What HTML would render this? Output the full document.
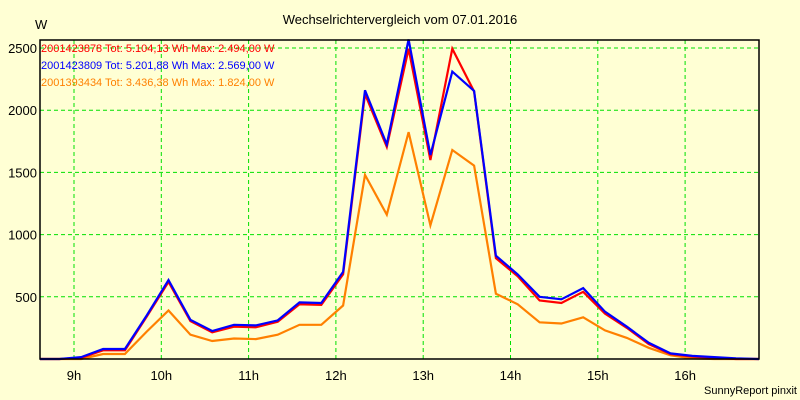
<!DOCTYPE html>
<html><head><meta charset="utf-8"><style>
html,body{margin:0;padding:0;background:#ffffd4;}
svg{display:block;font-family:"Liberation Sans",sans-serif;}
</style></head><body>
<svg id="chart" width="800" height="400" viewBox="0 0 800 400">
<rect x="0" y="0" width="800" height="400" fill="#ffffd4"/>
<text x="400" y="24" font-size="13" text-anchor="middle" fill="#000">Wechselrichtervergleich vom 07.01.2016</text>
<text x="35" y="29" font-size="13" fill="#000">W</text>
<g id="grid"></g>
<g id="series"></g>
<rect x="40" y="40" width="719" height="319" fill="none" stroke="#000" stroke-width="1.5"/>
<g id="legend" font-size="11">
<text x="41" y="52" fill="#ff0000">2001423878 Tot: 5.104,13 Wh Max: 2.494,00 W</text>
<text x="41" y="69" fill="#0000ff">2001423809 Tot: 5.201,88 Wh Max: 2.569,00 W</text>
<text x="41" y="86" fill="#ff8000">2001393434 Tot: 3.436,38 Wh Max: 1.824,00 W</text>
</g>
<text x="797" y="394" font-size="11" text-anchor="end" fill="#000">SunnyReport pinxit</text>
</svg>
<script>
const times=[8.833,9.083,9.333,9.583,9.833,10.083,10.333,10.583,10.833,11.083,11.333,11.583,11.833,12.083,12.333,12.583,12.833,13.083,13.333,13.583,13.833,14.083,14.333,14.583,14.833,15.083,15.333,15.583,15.833,16.083,16.333,16.583,16.833];
const blueValues=[0,15,80,80,350,635,315,225,275,270,310,455,450,700,2160,1725,2569,1640,2310,2155,830,680,500,480,570,380,260,130,45,25,15,5,0];
const redValues=[0,10,70,70,340,620,305,215,260,255,300,440,435,680,2130,1705,2494,1600,2494,2150,810,665,470,450,540,365,250,120,40,20,10,0,0];
const orangeValues=[0,0,40,40,220,390,195,145,165,160,195,275,275,430,1480,1160,1824,1075,1680,1555,525,440,295,285,335,230,170,90,30,5,0,0,0];
const yTicks=[500,1000,1500,2000,2500];
const xTicks=[9,10,11,12,13,14,15,16];
const X0=74,PX_H=87.3,Y0=359,PX_W=62.2/500;
const xs=t=>X0+(t-9)*PX_H;
const ys=v=>Y0-v*PX_W;
const NS="http://www.w3.org/2000/svg";
const grid=document.getElementById('grid');
const svg=document.getElementById('chart');
yTicks.forEach(v=>{
  const l=document.createElementNS(NS,'line');
  l.setAttribute('x1',40);l.setAttribute('x2',759);l.setAttribute('y1',ys(v));l.setAttribute('y2',ys(v));
  l.setAttribute('stroke','#00e000');l.setAttribute('stroke-dasharray','4,3');
  
  
  grid.appendChild(l);
  const t=document.createElementNS(NS,'text');
  t.setAttribute('x',37);t.setAttribute('y',ys(v)+5);t.setAttribute('font-size','13');t.setAttribute('text-anchor','end');
  t.textContent=v;
  
  
  svg.appendChild(t);
});
xTicks.forEach(h=>{
  const l=document.createElementNS(NS,'line');
  l.setAttribute('x1',xs(h));l.setAttribute('x2',xs(h));l.setAttribute('y1',40);l.setAttribute('y2',359);
  l.setAttribute('stroke','#00e000');l.setAttribute('stroke-dasharray','4,3');
  
  
  grid.appendChild(l);
  const t=document.createElementNS(NS,'text');
  t.setAttribute('x',xs(h));t.setAttribute('y',380);t.setAttribute('font-size','13');t.setAttribute('text-anchor','middle');
  t.textContent=h+'h';
  
  
  svg.appendChild(t);
});
const series=document.getElementById('series');
function draw(vals,color,name){
  const pts=[[40,Y0]].concat(vals.map((v,i)=>[xs(times[i]),ys(v)]));
  pts.push([759,Y0]);
  const p=document.createElementNS(NS,'polyline');
  p.setAttribute('points',pts.map(q=>q[0].toFixed(1)+','+q[1].toFixed(1)).join(' '));
  p.setAttribute('fill','none');p.setAttribute('stroke',color);p.setAttribute('stroke-width','2.2');
  
  
  series.appendChild(p);
}
draw(orangeValues,'#ff8000','series-2001393434');
draw(redValues,'#ff0000','series-2001423878');
draw(blueValues,'#0000ff','series-2001423809');
</script>
</body></html>
